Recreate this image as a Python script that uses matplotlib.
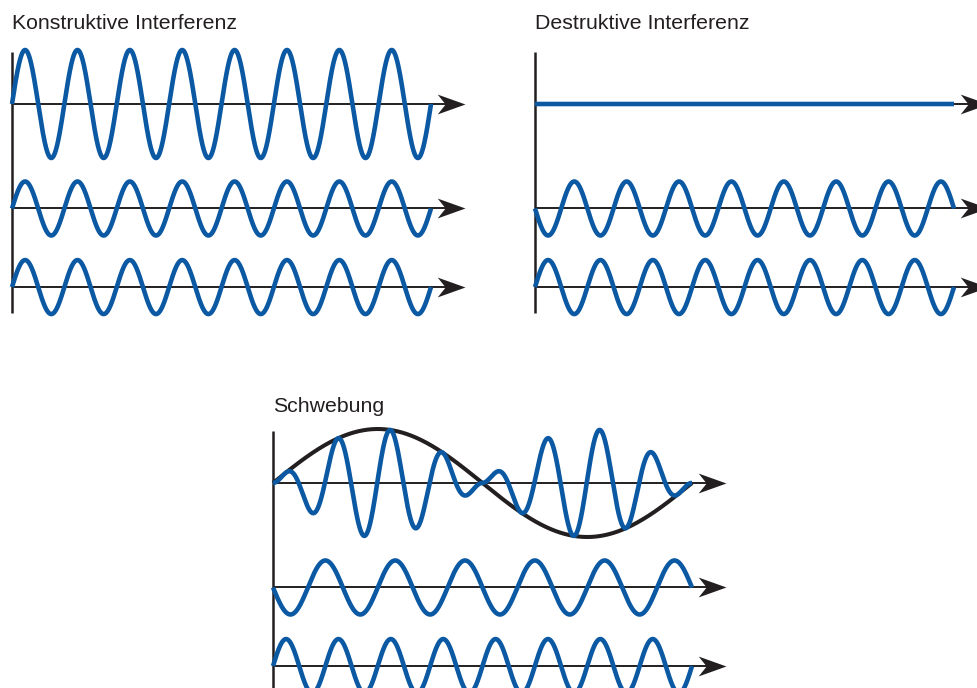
import numpy as np
import matplotlib
matplotlib.use("Agg")
import matplotlib.pyplot as plt
from matplotlib.path import Path

plt.rcParams['font.family'] = ['Liberation Sans', 'DejaVu Sans']

# --- data -----------------------------------------------------------------
# amplitudes in units of the small wave, cycles over the drawn length
titles = ["Konstruktive Interferenz", "Destruktive Interferenz", "Schwebung"]

konst_amp = [2.0, 1.0, 1.0]
konst_cycles = [8, 8, 8]

destr_amp = [0.0, -1.0, 1.0]
destr_cycles = [8, 8, 8]

schweb_amp = [2.0, -1.0, 1.0]      # first row = beat (envelope amplitude)
schweb_cycles = [8, 6, 8]
beat_env_cycles = 1
beat_phase = 0.03

row_offsets = [0.0, -3.87, -6.78]

# --- styles / layout -------------------------------------------------------
BLUE = "#0b58a3"
BLACK = "#231f20"
W_PX = 419.0     # pixel length of one wave
UNIT_PX = 27.0   # pixel height of amplitude 1
FIG_W, FIG_H = 977, 688
LW_WAVE = 3.3

# stealth arrow head, tip at origin
head = Path([(0, 0), (-28, 10), (-20, 0), (-28, -10), (0, 0)],
            [Path.MOVETO, Path.LINETO, Path.LINETO, Path.LINETO, Path.CLOSEPOLY])

fig = plt.figure(figsize=(FIG_W / 100, FIG_H / 100), dpi=100)


def make_axes(x0, yb0):
    left, top, w, h = x0 - 10, yb0 - 90, 480, 340
    ax = fig.add_axes([left / FIG_W, 1 - (top + h) / FIG_H, w / FIG_W, h / FIG_H])
    ax.set_xlim(-10 / W_PX, 470 / W_PX)
    ax.set_ylim(-(h - 90) / UNIT_PX, 90 / UNIT_PX)
    ax.axis("off")
    return ax


def draw_frame(ax, title, title_y):
    ax.plot([0, 0], [1.93, -7.74], color=BLACK, lw=1.8, solid_capstyle="butt", zorder=1)
    for off in row_offsets:
        ax.plot([0, 1.06], [off, off], color=BLACK, lw=1.4, solid_capstyle="butt", zorder=1)
        ax.plot([1.08], [off], marker=head, markersize=40, color=BLACK,
                markeredgewidth=0, clip_on=False, zorder=3)
    ax.text(0.0, title_y, title, fontsize=15.3, color=BLACK, va="baseline", ha="left")


def wave(ax, y):
    ax.plot(x, y, color=BLUE, lw=LW_WAVE, solid_capstyle="butt", zorder=2.5, clip_on=False)


x = np.linspace(0, 1, 3000)

# Konstruktive Interferenz
ax1 = make_axes(12, 104)
draw_frame(ax1, titles[0], 2.78)
for off, a, c in zip(row_offsets, konst_amp, konst_cycles):
    wave(ax1, off + a * np.sin(2 * np.pi * c * x))

# Destruktive Interferenz
ax2 = make_axes(535, 104)
draw_frame(ax2, titles[1], 2.78)
for off, a, c in zip(row_offsets, destr_amp, destr_cycles):
    wave(ax2, off + a * np.sin(2 * np.pi * c * x))

# Schwebung
ax3 = make_axes(273, 483)
draw_frame(ax3, titles[2], 2.63)
env = schweb_amp[0] * np.sin(2 * np.pi * beat_env_cycles * x)
ax3.plot(x, row_offsets[0] + env, color=BLACK, lw=2.9, solid_capstyle="butt", zorder=2)
wave(ax3, row_offsets[0] + np.abs(env) * np.cos(2 * np.pi * schweb_cycles[0] * (x - beat_phase)))
for off, a, c in zip(row_offsets[1:], schweb_amp[1:], schweb_cycles[1:]):
    wave(ax3, off + a * np.sin(2 * np.pi * c * x))

fig.savefig("out.png", dpi=100)
